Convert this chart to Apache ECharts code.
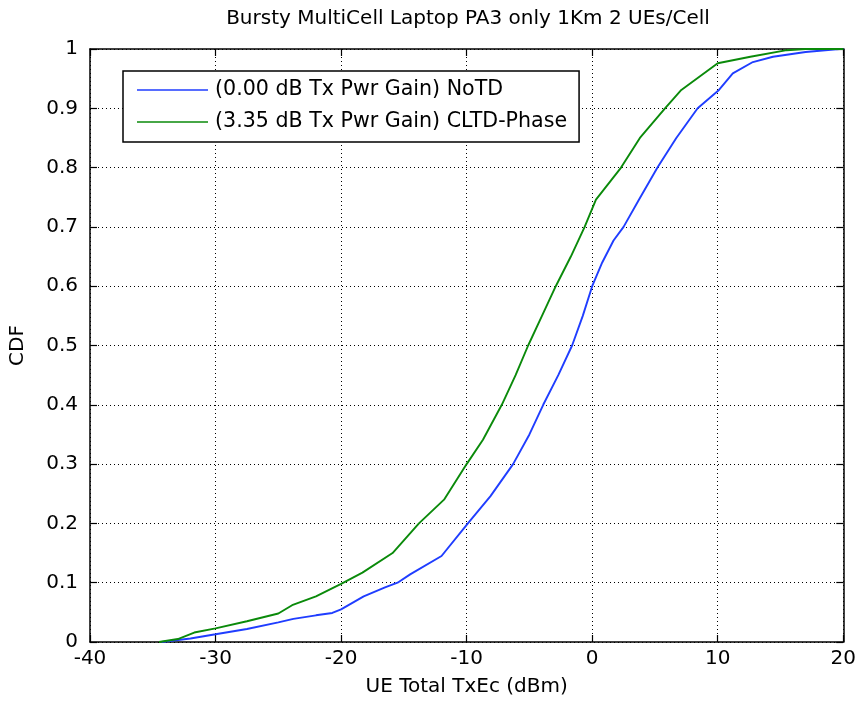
<!DOCTYPE html>
<html>
<head>
<meta charset="utf-8">
<title>Bursty MultiCell Laptop PA3 only 1Km 2 UEs/Cell</title>
<script src="https://cdn.jsdelivr.net/npm/echarts@6/dist/echarts.min.js"></script>
<style>
  html, body { margin: 0; padding: 0; background: #fff; }
  #chart { width: 859px; height: 702px; }
</style>
</head>
<body>
<div id="chart"></div>
<script>
// Empirical CDF of UE total TxEc (dBm), two transmit-diversity schemes
const seriesNames = [
  '(0.00 dB Tx Pwr Gain) NoTD',
  '(3.35 dB Tx Pwr Gain) CLTD-Phase'
];

// NoTD
const notdX = [-34.3, -32.0, -30.0, -27.5, -25.0, -23.8, -22.0, -20.7, -20.0, -18.2, -16.5, -15.5, -14.5, -12.0, -9.9, -8.1, -6.3, -5.0, -3.9, -2.7, -1.6, -0.75, 0.0, 0.8, 1.7, 2.5, 3.7, 5.2, 6.7, 8.4, 10.1, 11.2, 12.8, 14.4, 17.0, 19.7, 20.0];
const notdY = [0.000, 0.006, 0.013, 0.022, 0.033, 0.039, 0.045, 0.049, 0.055, 0.077, 0.092, 0.100, 0.114, 0.145, 0.200, 0.246, 0.300, 0.350, 0.400, 0.450, 0.500, 0.550, 0.600, 0.640, 0.677, 0.700, 0.745, 0.800, 0.850, 0.900, 0.931, 0.959, 0.978, 0.987, 0.995, 1.000, 1.000];

// CLTD-Phase
const cltdX = [-34.5, -33.0, -31.7, -30.0, -27.5, -25.0, -23.9, -22.0, -20.0, -18.3, -15.9, -13.8, -11.8, -10.0, -8.7, -7.2, -6.1, -5.1, -4.0, -2.9, -1.7, -0.6, 0.3, 2.3, 3.8, 5.8, 7.1, 10.0, 12.6, 15.5, 17.0, 20.0];
const cltdY = [0.000, 0.005, 0.016, 0.023, 0.035, 0.048, 0.062, 0.077, 0.098, 0.117, 0.150, 0.200, 0.240, 0.300, 0.341, 0.400, 0.450, 0.500, 0.550, 0.600, 0.650, 0.700, 0.746, 0.800, 0.850, 0.900, 0.931, 0.976, 0.987, 0.998, 1.000, 1.000];

const xTicks = { min: -40, max: 20, interval: 10 };
const yTicks = { min: 0, max: 1, interval: 0.1 };

const zip = (xs, ys) => xs.map((x, i) => [x, ys[i]]);

const FONT = "'DejaVu Sans', 'Liberation Sans', Arial, sans-serif";
const FS = 20;
const gridLine = { show: true, lineStyle: { color: '#000', type: [1, 3], width: 1 } };
const boxLine = { show: true, onZero: false, lineStyle: { color: '#000', width: 1.5 } };
const innerTick = { show: true, inside: true, length: 7, lineStyle: { color: '#000', width: 1.2 } };

const chart = echarts.init(document.getElementById('chart'), null, { renderer: 'canvas' });

chart.setOption({
  backgroundColor: '#fff',
  animation: false,
  textStyle: { fontFamily: FONT },
  title: {
    text: 'Bursty MultiCell Laptop PA3 only 1Km 2 UEs/Cell',
    left: 463,
    textAlign: 'center',
    top: 4,
    textStyle: { fontFamily: FONT, fontSize: FS, fontWeight: 'normal', color: '#000' }
  },
  grid: { left: 89, right: 15, top: 49, bottom: 59, containLabel: false },
  legend: {
    orient: 'vertical',
    left: 123,
    top: 71,
    padding: [8, 12, 9, 14],
    itemGap: 10,
    itemWidth: 71,
    itemHeight: 14,
    backgroundColor: '#fff',
    borderColor: '#000',
    borderWidth: 1.5,
    textStyle: { fontFamily: FONT, fontSize: 20.6, color: '#000', lineHeight: 22, padding: [0, 0, 0, 2] },
    data: seriesNames.map(n => ({ name: n, icon: 'path://M0,7 L71,7 L71,8.3 L0,8.3 Z' }))
  },
  xAxis: [
    {
      type: 'value', position: 'bottom', ...xTicks,
      name: 'UE Total TxEc (dBm)', nameLocation: 'middle', nameGap: 35,
      nameTextStyle: { fontFamily: FONT, fontSize: FS, color: '#000' },
      axisLine: boxLine, axisTick: innerTick,
      axisLabel: { color: '#000', fontSize: FS, margin: 7, fontFamily: FONT },
      splitLine: gridLine
    },
    {
      type: 'value', position: 'top', ...xTicks,
      axisLine: boxLine, axisTick: innerTick,
      axisLabel: { show: false }, splitLine: { show: false }
    }
  ],
  yAxis: [
    {
      type: 'value', position: 'left', ...yTicks,
      name: 'CDF', nameLocation: 'middle', nameGap: 62,
      nameTextStyle: { fontFamily: FONT, fontSize: FS, color: '#000' },
      axisLine: boxLine, axisTick: innerTick,
      axisLabel: { color: '#000', fontSize: FS, margin: 12, fontFamily: FONT,
        formatter: v => (v === 0 || v === 1) ? String(v) : v.toFixed(1) },
      splitLine: gridLine
    },
    {
      type: 'value', position: 'right', ...yTicks,
      axisLine: boxLine, axisTick: innerTick,
      axisLabel: { show: false }, splitLine: { show: false }
    }
  ],
  series: [
    {
      name: seriesNames[0], type: 'line', data: zip(notdX, notdY),
      showSymbol: false, symbol: 'none',
      lineStyle: { color: '#1f3dff', width: 1.9 }, itemStyle: { color: '#1f3dff' }, z: 3
    },
    {
      name: seriesNames[1], type: 'line', data: zip(cltdX, cltdY),
      showSymbol: false, symbol: 'none',
      lineStyle: { color: '#0a8a0a', width: 1.9 }, itemStyle: { color: '#0a8a0a' }, z: 3
    }
  ]
});
</script>
</body>
</html>
